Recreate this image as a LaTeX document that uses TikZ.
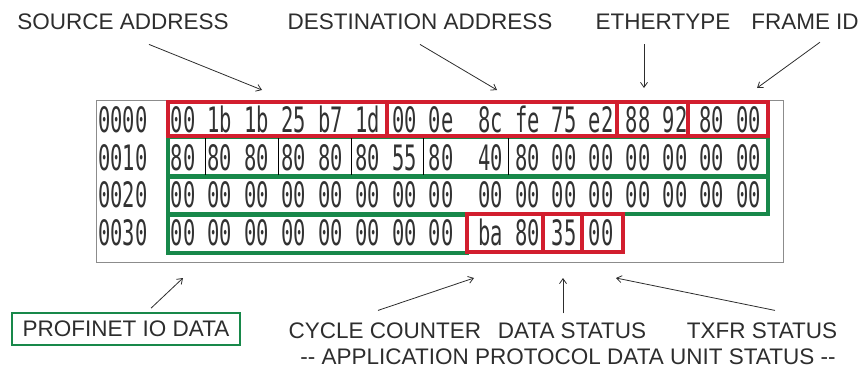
\documentclass[tikz,border=0pt]{standalone}
\usepackage{fontspec}
\setmainfont{Liberation Sans}
\newfontfamily\hexfont[FakeStretch=0.585]{DejaVu Sans Mono}
\usetikzlibrary{arrows.meta}
\definecolor{framered}{RGB}{210,30,46}
\definecolor{framegreen}{RGB}{24,136,74}
\definecolor{inkgray}{RGB}{45,45,45}
\definecolor{hexgray}{RGB}{50,50,50}
\definecolor{panelgray}{RGB}{140,140,140}

\begin{document}
\begin{tikzpicture}[x=1pt,y=-1pt,
  lbl/.style={font=\fontsize{22.5}{26}\selectfont, text=inkgray, inner sep=0pt, anchor=base},
  hex/.style={font=\hexfont\fontsize{35}{35}\selectfont, text=hexgray, inner sep=0pt, anchor=base},
  ptr/.style={draw=inkgray, line width=0.8pt, -{Straight Barb[length=5pt,width=7pt]}},
  redbox/.style={draw=framered, line width=3.2pt},
  greenbox/.style={draw=framegreen, line width=3.2pt},
  divider/.style={draw=black, line width=0.9pt}]
\useasboundingbox (0,0) rectangle (867,369);

% panel
\draw[panelgray, line width=1pt] (96,100) rectangle (783,262);

% offsets
\node[hex, anchor=base west] (off0) at (98,132) {0000};
\node[hex, anchor=base west] (off1) at (98,170) {0010};
\node[hex, anchor=base west] (off2) at (98,207) {0020};
\node[hex, anchor=base west] (off3) at (98,245) {0030};

% bytes
\foreach \r/\yb/\bytes in {
  0/132/{00,1b,1b,25,b7,1d,00,0e,8c,fe,75,e2,88,92,80,00},
  1/170/{80,80,80,80,80,80,55,80,40,80,00,00,00,00,00,00},
  2/207/{00,00,00,00,00,00,00,00,00,00,00,00,00,00,00,00},
  3/245/{00,00,00,00,00,00,00,00,ba,80,35,00}}{
  \foreach \b [count=\i from 0] in \bytes {
    \pgfmathsetmacro{\bx}{183+36.9*\i+12.3*(\i>7)}
    \node[hex] (b\r-\i) at (\bx,\yb) {\b};
  }
}

% payload rows
\draw[greenbox] (168,137) rectangle (768,176);
\draw[greenbox] (168,177) rectangle (768,214);
\draw[greenbox] (168,215) rectangle (467,253);
\foreach \xd in {205,278,351,423,508}
  \draw[divider] (\xd,138) -- (\xd,175);

% header fields
\draw[redbox] (168,102) rectangle (387,136);
\draw[redbox] (387,102) rectangle (617,136);
\draw[redbox] (617,102) rectangle (688,136);
\draw[redbox] (688,102) rectangle (768,136);

% status fields
\draw[redbox] (467,214) rectangle (543,252);
\draw[redbox] (543,214) rectangle (582,252);
\draw[redbox] (582,214) rectangle (623,252);

% top labels
\node[lbl] (src) at (123,30) {SOURCE ADDRESS};
\node[lbl] (dst) at (420,30) {DESTINATION ADDRESS};
\node[lbl] (eth) at (663,30) {ETHERTYPE};
\node[lbl] (fid) at (805,30) {FRAME ID};

\coordinate (srcTip) at (262,90);
\coordinate (dstTip) at (497,90);
\coordinate (ethTip) at (644,88);
\coordinate (fidTip) at (757,88);

\draw[ptr] ([xshift=26pt,yshift=-14pt]src.south) -- (srcTip);
\draw[ptr] ([xshift=0pt,yshift=-14pt]dst.south) -- (dstTip);
\draw[ptr] ([xshift=-19pt,yshift=-14pt]eth.south) -- (ethTip);
\draw[ptr] ([xshift=15pt,yshift=-12pt]fid.south) -- (fidTip);

% bottom labels
\node[lbl, anchor=center, draw=framegreen, line width=1.6pt,
      minimum width=228pt, minimum height=32pt] (pio) at (126,329) {PROFINET IO DATA};
\node[lbl] (cyc) at (385,338) {CYCLE COUNTER};
\node[lbl] (dst2) at (572,338) {DATA STATUS};
\node[lbl] (txf) at (762,338) {TXFR STATUS};
\node[lbl] (apdu) at (568,364) {-{}- APPLICATION PROTOCOL DATA UNIT STATUS -{}-};

\coordinate (pioTip) at (183,278);
\coordinate (cycTip) at (474,278);
\coordinate (dsTip) at (563,278);
\coordinate (txfTip) at (616,278);

\draw[ptr] ([xshift=25pt,yshift=4pt]pio.north) -- (pioTip);
\draw[ptr] ([xshift=-7pt,yshift=28pt]cyc.south) -- (cycTip);
\draw[ptr] ([xshift=-9pt,yshift=25pt]dst2.south) -- (dsTip);
\draw[ptr] ([xshift=13pt,yshift=28pt]txf.south) -- (txfTip);
\end{tikzpicture}
\end{document}
